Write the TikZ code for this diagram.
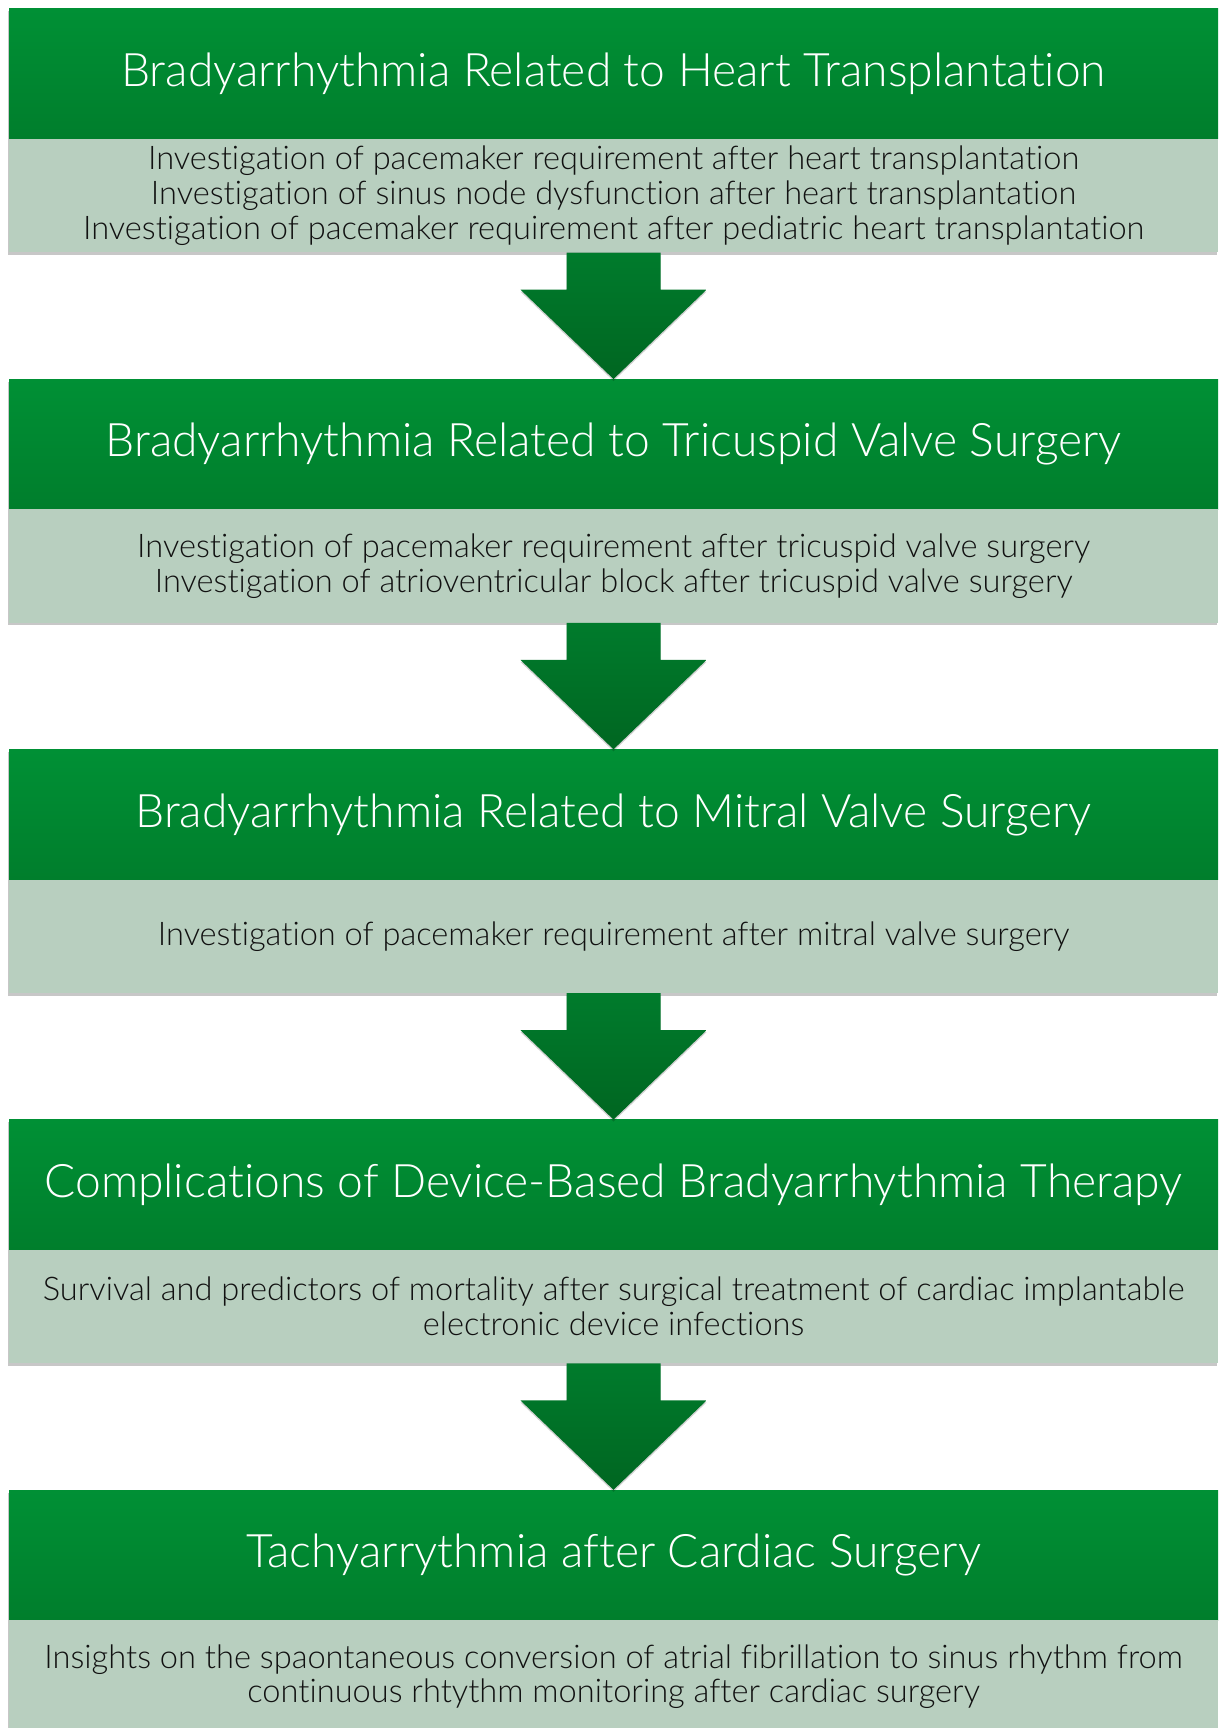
\documentclass[tikz,border=0pt]{standalone}
\usepackage{fontspec}
\setmainfont{Lato}[UprightFont=* Light, Ligatures={NoCommon}]
\usetikzlibrary{shadows,calc}
\definecolor{hgtop}{HTML}{009035}
\definecolor{hgbot}{HTML}{007E2C}
\definecolor{bodyfill}{HTML}{B8CFBF}
\definecolor{arrtop}{HTML}{007B2C}
\definecolor{arrbot}{HTML}{006621}
\definecolor{bodytext}{HTML}{111111}
\tikzset{
  boxshadow/.style={drop shadow={shadow xshift=-1.5pt, shadow yshift=-2.5pt, opacity=0.22, fill=black}},
  headbox/.style={minimum width=1209pt, minimum height=130pt, inner sep=0pt,
    top color=hgtop, bottom color=hgbot, draw=none, text=white,
    font=\fontsize{46.2}{50}\selectfont, align=center, boxshadow},
  bodybox/.style={minimum width=1209pt, minimum height=113.5pt, inner sep=0pt,
    fill=bodyfill, draw=none, text=bodytext,
    font=\fontsize{32.6}{34.7}\selectfont, align=center, boxshadow},
  blockarrow/.style={top color=arrtop, bottom color=arrbot, draw=none,
    drop shadow={shadow xshift=0pt, shadow yshift=-2pt, opacity=0.18, fill=black}}
}
\begin{document}
\begin{tikzpicture}[x=1pt,y=-1pt]
\useasboundingbox (0,0) rectangle (1219,1728);
\clip (0,0) rectangle (1219,1728);
\fill[white] (0,0) rectangle (1219,1728);
% boxes
\node[headbox] (h1) at (613.5,74) {Bradyarrhythmia Related to Heart Transplantation};
\node[bodybox] (b1) at (613.5,195.75) {Investigation of pacemaker requirement after heart transplantation\\Investigation of sinus node dysfunction after heart transplantation\\Investigation of pacemaker requirement after pediatric heart transplantation};
\node[headbox] (h2) at (613.5,444.25) {Bradyarrhythmia Related to Tricuspid Valve Surgery};
\node[bodybox] (b2) at (613.5,566) {Investigation of pacemaker requirement after tricuspid valve surgery\\Investigation of atrioventricular block after tricuspid valve surgery};
\node[headbox] (h3) at (613.5,814.5) {Bradyarrhythmia Related to Mitral Valve Surgery};
\node[bodybox] (b3) at (613.5,936.25) {Investigation of pacemaker requirement after mitral valve surgery};
\node[headbox] (h4) at (613.5,1184.75) {Complications of Device-Based Bradyarrhythmia Therapy};
\node[bodybox] (b4) at (613.5,1306.5) {Survival and predictors of mortality after surgical treatment of cardiac implantable\\electronic device infections};
\node[headbox] (h5) at (613.5,1555) {Tachyarrythmia after Cardiac Surgery};
\node[bodybox] (b5) at (613.5,1676.75) {Insights on the spaontaneous conversion of atrial fibrillation to sinus rhythm from\\continuous rhtythm monitoring after cardiac surgery};
% block arrows
\foreach \a/\b in {b1/h2,b2/h3,b3/h4,b4/h5}{
  \path[blockarrow] ($(\a.south)+(-47,0)$) -- ($(\a.south)+(-47,37)$) -- ($(\a.south)+(-93,37)$)
     -- (\b.north) -- ($(\a.south)+(93,37)$) -- ($(\a.south)+(47,37)$) -- ($(\a.south)+(47,0)$) -- cycle;
}
\end{tikzpicture}
\end{document}
